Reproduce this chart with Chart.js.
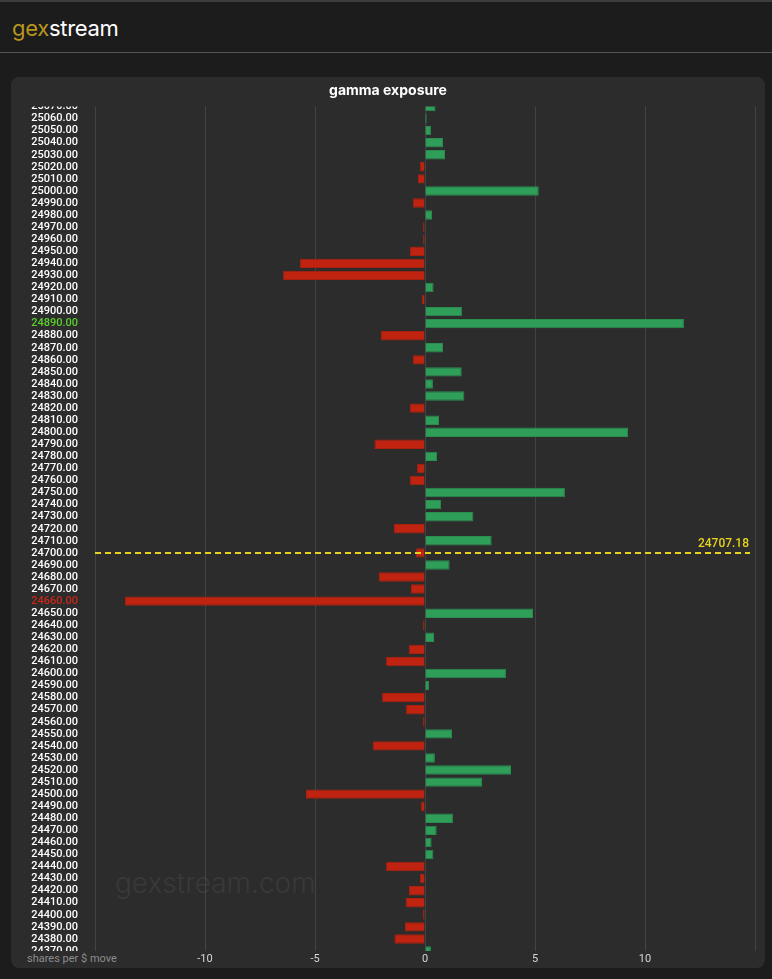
<!DOCTYPE html>
<html>
<head>
<meta charset="utf-8">
<title>gexstream - gamma exposure</title>
<script src="https://cdn.jsdelivr.net/npm/chart.js@4.4.0/dist/chart.umd.min.js"></script>
<style>
    body {
        margin: 0;
        width: 772px;
        height: 979px;
        overflow: hidden;
        background: #1c1c1c;
        font-family: Inter, Roboto, sans-serif;
    }
    .topline {
        position: absolute; left: 0; top: 0; width: 772px; height: 2px;
        background: #3d3d3d;
    }
    .brand {
        position: absolute; left: 12px; top: 13px;
        font-size: 22px; line-height: 30px; color: #ffffff;
        letter-spacing: -0.3px;
    }
    .brand span { color: #b8961c; }
    .headline {
        position: absolute; left: 0; top: 52px; width: 772px; height: 1px;
        background: #555555;
    }
    .panel {
        position: absolute; left: 11px; top: 77px;
        width: 754px; height: 891px;
        background: #2c2c2c;
        border-radius: 8px;
    }
    .watermark {
        position: absolute; left: 104px; top: 789px;
        font-size: 28px; line-height: 34px; font-weight: 300;
        color: #393939;
    }
    .axisnote {
        position: absolute; left: 16px; top: 875px;
        font-family: Roboto, sans-serif;
        font-size: 11px; line-height: 14px; color: #8c8c8c;
    }
    .chartbox {
        position: absolute; left: 0; top: 0; width: 754px; height: 891px;
    }
</style>
</head>
<body>
<div class="topline"></div>
<div class="brand"><span>gex</span>stream</div>
<div class="headline"></div>

<div class="panel">
    <div class="watermark">gexstream.com</div>
    <div class="axisnote">shares per $ move</div>
    <div class="chartbox"><canvas id="gexChart"></canvas></div>
</div>

<script>
// strikes, top to bottom
const strikes = [
    25070, 25060, 25050, 25040, 25030, 25020, 25010, 25000, 24990, 24980,
    24970, 24960, 24950, 24940, 24930, 24920, 24910, 24900, 24890, 24880,
    24870, 24860, 24850, 24840, 24830, 24820, 24810, 24800, 24790, 24780,
    24770, 24760, 24750, 24740, 24730, 24720, 24710, 24700, 24690, 24680,
    24670, 24660, 24650, 24640, 24630, 24620, 24610, 24600, 24590, 24580,
    24570, 24560, 24550, 24540, 24530, 24520, 24510, 24500, 24490, 24480,
    24470, 24460, 24450, 24440, 24430, 24420, 24410, 24400, 24390, 24380,
    24370
];

// gamma exposure per strike (shares per $ move)
const gammaValues = [
    0.48, 0.08, 0.27, 0.82, 0.91, -0.24, -0.32, 5.17, -0.56, 0.32,
    -0.10, -0.09, -0.68, -5.68, -6.45, 0.39, -0.15, 1.68, 11.77, -2.00,
    0.82, -0.55, 1.67, 0.36, 1.79, -0.68, 0.64, 9.23, -2.30, 0.55,
    -0.36, -0.68, 6.36, 0.73, 2.20, -1.42, 3.03, -0.42, 1.12, -2.10,
    -0.64, -13.64, 4.91, -0.10, 0.41, -0.74, -1.77, 3.68, 0.18, -1.95,
    -0.86, -0.10, 1.23, -2.38, 0.45, 3.91, 2.59, -5.41, -0.18, 1.27,
    0.53, 0.30, 0.38, -1.77, -0.23, -0.73, -0.88, -0.10, -0.91, -1.39,
    0.27
];

const spotPrice = 24707.18;

// x axis range and tick step
const xMin = -15;
const xMax = 15;
const xStep = 5;

const labels = strikes.map(s => s.toFixed(2));

// biggest call / put walls get coloured labels
let maxIdx = 0, minIdx = 0;
gammaValues.forEach((v, i) => {
    if (v > gammaValues[maxIdx]) maxIdx = i;
    if (v < gammaValues[minIdx]) minIdx = i;
});

const spotLabel = (Math.floor(spotPrice / 10) * 10).toFixed(2);

//keep the y labels inside the plot band, like a scrolled list
const clipPlugin = {
    id: 'clipLabels',
    beforeDraw(chart) {
        const a = chart.chartArea;
        const ctx = chart.ctx;
        ctx.save();
        ctx.beginPath();
        ctx.rect(a.left, 0, chart.width - a.left, chart.height);
        ctx.rect(0, a.top, a.left, a.bottom - a.top);
        ctx.clip();
    },
    afterDraw(chart) {
        chart.ctx.restore();
    }
};

//dashed spot price line
const spotPlugin = {
    id: 'spotLine',
    afterDatasetsDraw(chart) {
        const ctx = chart.ctx;
        const a = chart.chartArea;
        const y = chart.scales.y.getPixelForValue(labels.indexOf(spotLabel));
        ctx.save();
        ctx.strokeStyle = '#e6d31e';
        ctx.lineWidth = 2;
        ctx.setLineDash([6, 4]);
        ctx.beginPath();
        ctx.moveTo(a.left, y);
        ctx.lineTo(a.right - 5, y);
        ctx.stroke();
        ctx.setLineDash([]);
        ctx.fillStyle = '#e6d31e';
        ctx.font = '500 12px Roboto';
        ctx.textAlign = 'right';
        ctx.textBaseline = 'middle';
        ctx.fillText(spotPrice.toFixed(2), a.right - 6, y - 9);
        ctx.restore();
    }
};

const ctx = document.getElementById('gexChart').getContext('2d');
const gexChart = new Chart(ctx, {
    type: 'bar',
    data: {
        labels: labels,
        datasets: [{
            label: 'gamma exposure',
            data: gammaValues,
            backgroundColor: gammaValues.map(v => v >= 0 ? '#2e9e58' : '#c02411'),
            borderColor: gammaValues.map(v => v >= 0 ? '#2a8c4f' : '#a9200f'),
            borderWidth: 1,
            barPercentage: 0.78,
            categoryPercentage: 1.0
        }]
    },
    options: {
        indexAxis: 'y',
        responsive: true,
        maintainAspectRatio: false,
        animation: false,
        layout: {
            padding: { left: 0, right: 0, top: 0, bottom: 0 }
        },
        plugins: {
            legend: { display: false },
            tooltip: { enabled: false },
            title: {
                display: true,
                text: 'gamma exposure',
                color: '#ffffff',
                font: { family: 'Inter', size: 14, weight: 'bold' },
                padding: { top: 5.6, bottom: 7.1 }
            }
        },
        scales: {
            x: {
                min: xMin,
                max: xMax,
                grid: {
                    color: 'rgba(255, 255, 255, 0.11)',
                    drawTicks: false
                },
                border: { display: false },
                ticks: {
                    stepSize: xStep,
                    padding: 2,
                    color: '#d6d6d6',
                    font: { family: 'Roboto', size: 11 },
                    callback: (v) => (v === xMin || v === xMax) ? '' : v
                },
                afterFit: (scale) => {
                    scale.height = 17;
                    scale.paddingLeft = 0;
                    scale.paddingRight = 10;
                }
            },
            y: {
                offset: false,
                min: labels[0],
                max: labels[labels.length - 1],
                grid: { display: false, drawTicks: false },
                border: { display: false },
                ticks: {
                    autoSkip: false,
                    padding: 17,
                    font: { family: 'Roboto', size: 11, weight: 500 },
                    color: (c) => {
                        if (c.index === maxIdx) return '#5bd12b';
                        if (c.index === minIdx) return '#c8281a';
                        return '#ffffff';
                    }
                },
                afterFit: (scale) => {
                    scale.width = 84;
                    scale.paddingTop = 0;
                    scale.paddingBottom = 0;
                }
            }
        }
    },
    plugins: [clipPlugin, spotPlugin]
});
</script>
</body>
</html>
